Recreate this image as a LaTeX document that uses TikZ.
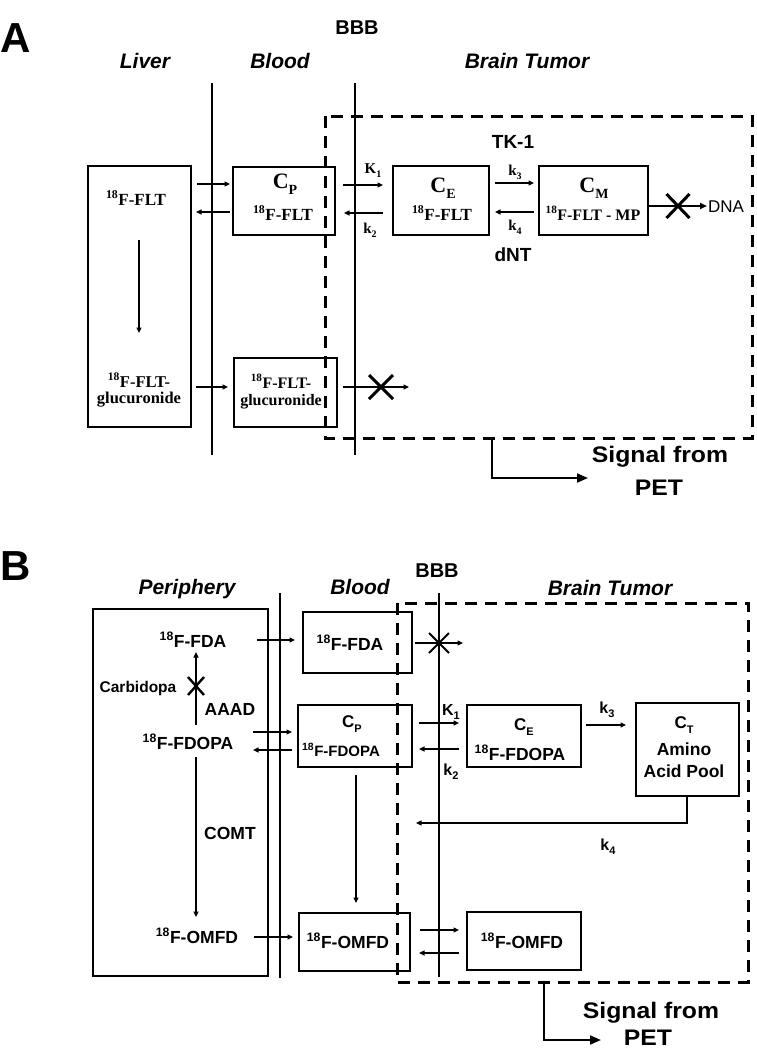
\documentclass[tikz,border=0pt]{standalone}
\usepackage{fontspec}
\setmainfont{Liberation Serif}
\setsansfont{Liberation Sans}
\newfontfamily\heavy[FakeStretch=1.1]{Liberation Sans}
\newfontfamily\heavyP{Liberation Sans}
\usetikzlibrary{arrows.meta,shapes.misc}
\newcommand\mkbox[5]{\node[box, minimum width={(#4-#2)*1pt}, minimum height={(#5-#3)*1pt}] (#1) at ({(#2+#4)/2},{(#3+#5)/2}) {};}
\newcommand\ff[1]{\textsuperscript{18}#1}
\newcommand\subs[2]{\raisebox{-0.3em}{\fontsize{#1}{#1}\selectfont #2}}
\tikzset{
  every node/.style={inner sep=0pt, outer sep=0pt},
  box/.style={draw, line width=2.6pt},
  mem/.style={line width=2.4pt},
  dbox/.style={line width=3pt, dash pattern=on 12pt off 8pt},
  arr/.style={line width=1.1pt, -{Triangle[length=5.5pt,width=5pt]}},
  sigarr/.style={line width=2pt, -{Triangle[length=11pt,width=9pt]}},
  dnaarr/.style={line width=2.2pt, -{Triangle[length=7pt,width=6pt]}},
  xmark/.style={draw, cross out, line width=3pt, minimum width=22pt, minimum height=22pt},
  panel/.style={anchor=base west, font=\heavyP\bfseries\fontsize{42}{44}\selectfont},
  region/.style={anchor=base, font=\sffamily\bfseries\itshape\fontsize{21}{24}\selectfont},
  hdr/.style={anchor=base, font=\sffamily\bfseries\fontsize{20}{22}\selectfont},
  sig/.style={anchor=base, font=\heavy\bfseries\fontsize{22.5}{24}\selectfont},
  stA/.style={anchor=base, font=\rmfamily\bfseries\fontsize{17}{19}\selectfont},
  cA/.style={anchor=base, font=\rmfamily\bfseries\fontsize{22}{24}\selectfont},
  kA/.style={anchor=base, font=\rmfamily\bfseries\fontsize{15}{17}\selectfont},
  enzA/.style={anchor=base, font=\sffamily\bfseries\fontsize{19}{21}\selectfont},
  stB/.style={anchor=base, font=\sffamily\bfseries\fontsize{17.5}{20}\selectfont},
  kB/.style={anchor=base, font=\sffamily\bfseries\fontsize{16}{18}\selectfont},
}
\begin{document}
\begin{tikzpicture}[x=1pt,y=-1pt]
\useasboundingbox (0,0) rectangle (757,1050);

%%%%%%%%%%%%%%%% PANEL A
\node[panel] (labA) at (0,52) {A};
\node[hdr] (bbbA) at (357,34) {BBB};
\node[region] (liverT) at (145,68) {Liver};
\node[region] (bloodTA) at (280,68) {Blood};
\node[region] (tumorTA) at (527,68) {Brain Tumor};

% membranes
\coordinate (mA1t) at (212,83); \coordinate (mA1b) at (212,455);
\coordinate (mA2t) at (355,83); \coordinate (mA2b) at (355,455);
\draw[mem] (mA1t) -- (mA1b);
\draw[mem] (mA2t) -- (mA2b);
% dashed region
\coordinate (dA1) at (325,116); \coordinate (dA2) at (752,438);
\draw[dbox] (dA1) rectangle (dA2);

% boxes
\mkbox{liverA}{88}{166}{191}{427}
\mkbox{cpA}{233}{167}{335}{235}
\mkbox{ceA}{393}{166}{489}{235}
\mkbox{cmA}{539}{166}{648}{235}
\mkbox{glA}{234}{358}{337}{427}

% texts
\node[stA] (tLflt) at (136,205) {\ff{F-FLT}};
\node[stA, font=\rmfamily\bfseries\fontsize{16.5}{18}\selectfont] (tLg1) at (139,387) {\ff{F-FLT-}};
\node[stA, font=\rmfamily\bfseries\fontsize{16.5}{18}\selectfont] (tLg2) at (139,403) {glucuronide};
\node[cA] (tCp) at (285,188) {C\subs{14}{P}};
\node[stA] (tCpf) at (283,220) {\ff{F-FLT}};
\node[cA] (tCe) at (443,192) {C\subs{14}{E}};
\node[stA] (tCef) at (442,220) {\ff{F-FLT}};
\node[cA] (tCm) at (594,192) {C\subs{14}{M}};
\node[stA, font=\rmfamily\bfseries\fontsize{16}{18}\selectfont] (tCmf) at (593,220) {\ff{F-FLT - MP}};
\node[stA, font=\rmfamily\bfseries\fontsize{16}{18}\selectfont] (tGg1) at (281,388) {\ff{F-FLT-}};
\node[stA, font=\rmfamily\bfseries\fontsize{16}{18}\selectfont] (tGg2) at (281,405) {glucuronide};
\node[kA] (k1A) at (373,173) {K\subs{10}{1}};
\node[kA] (k2A) at (370,233) {k\subs{10}{2}};
\node[kA] (k3A) at (515,175) {k\subs{10}{3}};
\node[kA] (k4A) at (515,230) {k\subs{10}{4}};
\node[enzA] (tk1) at (513,148) {TK-1};
\node[enzA] (dnt) at (513,261) {dNT};
\node[anchor=base, font=\sffamily\fontsize{17}{19}\selectfont] (dna) at (726,212) {DNA};

% arrows
\coordinate (a1s) at (197,184); \coordinate (a1e) at (230,184);
\coordinate (a2s) at (230,212); \coordinate (a2e) at (196,212);
\draw[arr] (a1s) -- (a1e);
\draw[arr] (a2s) -- (a2e);
\coordinate (a3s) at (343,185); \coordinate (a3e) at (383,185);
\coordinate (a4s) at (383,213); \coordinate (a4e) at (344,213);
\draw[arr] (a3s) -- (a3e);
\draw[arr] (a4s) -- (a4e);
\coordinate (a5s) at (495,183); \coordinate (a5e) at (534,183);
\coordinate (a6s) at (534,212); \coordinate (a6e) at (495,212);
\draw[arr] (a5s) -- (a5e);
\draw[arr] (a6s) -- (a6e);
\coordinate (a7s) at (139,240); \coordinate (a7e) at (139,333);
\draw[arr] (a7s) -- (a7e);
\coordinate (a8s) at (196,387); \coordinate (a8e) at (228,387);
\draw[arr] (a8s) -- (a8e);
\coordinate (a9s) at (343,387); \coordinate (a9e) at (409,387);
\draw[arr] (a9s) -- (a9e);
\node[xmark, minimum width=24pt, minimum height=24pt] (xgl) at (381,387) {};
\coordinate (dnae) at (707,206);
\draw[dnaarr] (cmA.east |- dnae) -- (dnae);
\node[xmark, minimum width=23pt, minimum height=24pt] (xdna) at (678,206) {};

% signal
\coordinate (sA1) at (492,438); \coordinate (sA2) at (588,478);
\draw[sigarr] (sA1) |- (sA2);
\node[sig] (sigA1) at (660,462) {Signal from};
\node[sig] (sigA2) at (659,495) {PET};

%%%%%%%%%%%%%%%% PANEL B
\node[panel] (labB) at (0,580) {B};
\node[hdr] (bbbB) at (437,577) {BBB};
\node[region] (periT) at (187,594) {Periphery};
\node[region] (bloodTB) at (360,594) {Blood};
\node[region] (tumorTB) at (610,595) {Brain Tumor};

\coordinate (mB1t) at (280,593); \coordinate (mB1b) at (280,978);
\coordinate (mB2t) at (439,593); \coordinate (mB2b) at (439,977);
\draw[mem] (mB1t) -- (mB1b);
\draw[mem] (mB2t) -- (mB2b);
\coordinate (dB1) at (397,603); \coordinate (dB2) at (748,982);
\draw[dbox] (dB1) rectangle (dB2);

\mkbox{periB}{93}{609}{268}{976}
\mkbox{fdaB}{303}{612}{412}{673}
\mkbox{cpB}{298}{705}{412}{767}
\mkbox{omB}{299}{913}{410}{971}
\mkbox{ceB}{467}{705}{581}{767}
\mkbox{ctB}{636}{703}{739}{796}
\mkbox{omtB}{467}{912}{581}{970}

\node[stB] (pFda) at (193,647) {\ff{F-FDA}};
\node[stB] (pFdopa) at (188,749) {\ff{F-FDOPA}};
\node[stB] (pOmfd) at (197,943) {\ff{F-OMFD}};
\node[stB, font=\sffamily\bfseries\fontsize{15.5}{18}\selectfont] (carbi) at (138,692) {Carbidopa};
\node[stB] (aaad) at (230,715) {AAAD};
\node[stB] (comt) at (230,839) {COMT};
\node[stB] (bFda) at (350,650) {\ff{F-FDA}};
\node[stB, font=\sffamily\bfseries\fontsize{17}{19}\selectfont] (bCp) at (352,727) {C\subs{11}{P}};
\node[stB, font=\sffamily\bfseries\fontsize{15}{18}\selectfont] (bFdopa) at (341,756) {\ff{F-FDOPA}};
\node[stB] (bOmfd) at (348,948) {\ff{F-OMFD}};
\node[stB, font=\sffamily\bfseries\fontsize{17}{19}\selectfont] (bCe) at (524,730) {C\subs{11}{E}};
\node[stB] (bCef) at (520,760) {\ff{F-FDOPA}};
\node[stB, font=\sffamily\bfseries\fontsize{17}{19}\selectfont] (bCt) at (684,728) {C\subs{11}{T}};
\node[stB] (amino) at (684,755) {Amino};
\node[stB] (acid) at (684,777) {Acid Pool};
\node[stB] (tOmfd) at (522,948) {\ff{F-OMFD}};
\node[kB] (k1B) at (451,715) {K\subs{11}{1}};
\node[kB] (k2B) at (451,775) {k\subs{11}{2}};
\node[kB] (k3B) at (607,713) {k\subs{11}{3}};
\node[kB] (k4B) at (608,850) {k\subs{11}{4}};

% arrows B
\coordinate (b1s) at (257,640); \coordinate (b1e) at (295,640);
\draw[arr] (b1s) -- (b1e);
\coordinate (b2s) at (415,643); \coordinate (b2e) at (463,643);
\draw[arr] (b2s) -- (b2e);
\node[xmark, line width=2pt, minimum width=20pt, minimum height=20pt] (xfda) at (439,643) {};
\coordinate (b3s) at (196,725); \coordinate (b3e) at (196,652);
\draw[arr] (b3s) -- (b3e);
\node[xmark, line width=2.4pt, minimum width=16pt, minimum height=18pt] (xcarb) at (196,686) {};
\coordinate (b4s) at (253,732); \coordinate (b4e) at (292,732);
\coordinate (b5s) at (292,750); \coordinate (b5e) at (253,750);
\draw[arr] (b4s) -- (b4e);
\draw[arr] (b5s) -- (b5e);
\coordinate (b6s) at (196,757); \coordinate (b6e) at (196,917);
\draw[arr] (b6s) -- (b6e);
\coordinate (b7s) at (356,775); \coordinate (b7e) at (356,903);
\draw[arr] (b7s) -- (b7e);
\coordinate (b8s) at (254,937); \coordinate (b8e) at (293,937);
\draw[arr] (b8s) -- (b8e);
\coordinate (b9s) at (419,723); \coordinate (b9e) at (459,723);
\coordinate (b10s) at (459,749); \coordinate (b10e) at (419,749);
\draw[arr] (b9s) -- (b9e);
\draw[arr] (b10s) -- (b10e);
\coordinate (b11s) at (586,725); \coordinate (b11e) at (626,725);
\draw[arr] (b11s) -- (b11e);
\coordinate (b12m) at (687,823); \coordinate (b12e) at (416,823);
\draw[arr] (ctB.south -| b12m) -- (b12m) -- (b12e);
\coordinate (b13s) at (420,930); \coordinate (b13e) at (459,930);
\coordinate (b14s) at (459,953); \coordinate (b14e) at (419,953);
\draw[arr] (b13s) -- (b13e);
\draw[arr] (b14s) -- (b14e);

\coordinate (sB1) at (544,982); \coordinate (sB2) at (601,1040);
\draw[sigarr] (sB1) |- (sB2);
\node[sig] (sigB1) at (651,1018) {Signal from};
\node[sig] (sigB2) at (648,1045) {PET};
\end{tikzpicture}
\end{document}
